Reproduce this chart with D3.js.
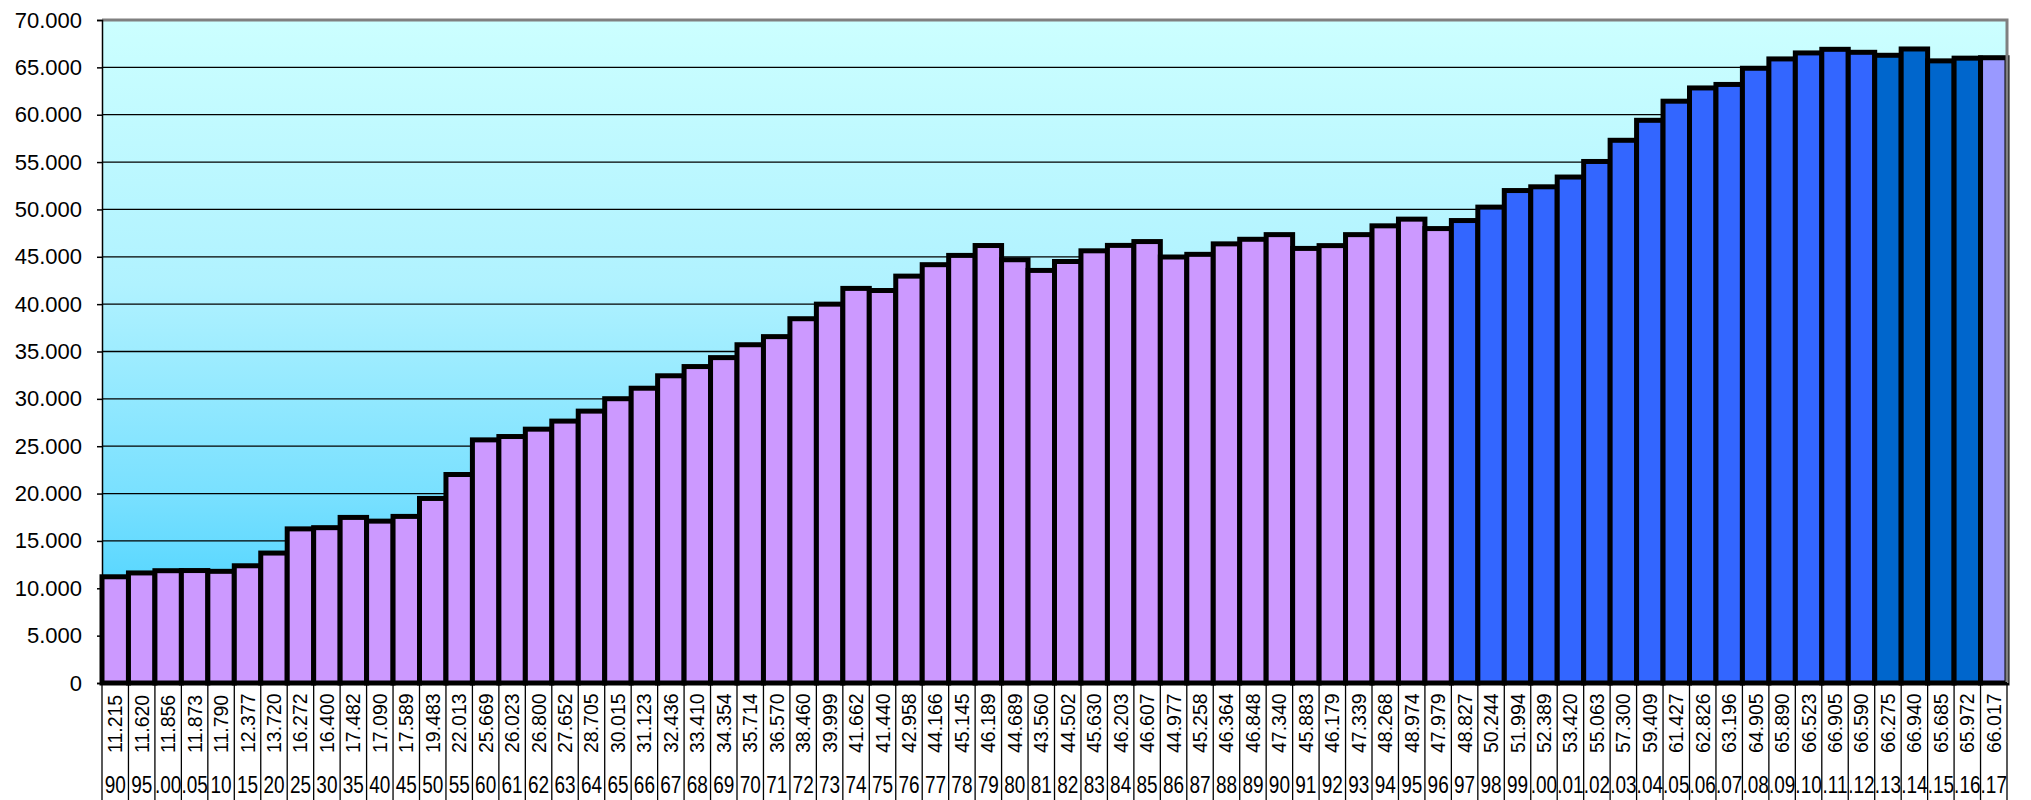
<!DOCTYPE html>
<html>
<head>
<meta charset="utf-8">
<script src="https://cdn.jsdelivr.net/npm/d3@7"></script>
<style>
  body { margin: 0; background: #fff; }
  text { font-family: "Liberation Sans", Arial, sans-serif; fill: #000; }
</style>
</head>
<body>
<div id="chart"></div>
<script>
const years = [1890, 1895, 1900, 1905, 1910, 1915, 1920, 1925, 1930, 1935, 1940, 1945, 1950, 1955,
  1960, 1961, 1962, 1963, 1964, 1965, 1966, 1967, 1968, 1969, 1970, 1971, 1972, 1973, 1974, 1975,
  1976, 1977, 1978, 1979, 1980, 1981, 1982, 1983, 1984, 1985, 1986, 1987, 1988, 1989, 1990, 1991,
  1992, 1993, 1994, 1995, 1996, 1997, 1998, 1999, 2000, 2001, 2002, 2003, 2004, 2005, 2006, 2007,
  2008, 2009, 2010, 2011, 2012, 2013, 2014, 2015, 2016, 2017];

const yearLabels = ["90", "95", ".00", ".05", "10", "15", "20", "25", "30", "35", "40", "45", "50", "55",
  "60", "61", "62", "63", "64", "65", "66", "67", "68", "69", "70", "71", "72", "73", "74", "75",
  "76", "77", "78", "79", "80", "81", "82", "83", "84", "85", "86", "87", "88", "89", "90", "91",
  "92", "93", "94", "95", "96", "97", "98", "99", ".00", ".01", ".02", ".03", ".04", ".05", ".06", ".07",
  ".08", ".09", ".10", ".11", ".12", ".13", ".14", ".15", ".16", ".17"];

const values = [11215, 11620, 11856, 11873, 11790, 12377, 13720, 16272, 16400, 17482,
  17090, 17589, 19483, 22013, 25669, 26023, 26800, 27652, 28705, 30015,
  31123, 32436, 33410, 34354, 35714, 36570, 38460, 39999, 41662, 41440,
  42958, 44166, 45145, 46189, 44689, 43560, 44502, 45630, 46203, 46607,
  44977, 45258, 46364, 46848, 47340, 45883, 46179, 47339, 48268, 48974,
  47979, 48827, 50244, 51994, 52389, 53420, 55063, 57300, 59409, 61427,
  62826, 63196, 64905, 65890, 66523, 66905, 66590, 66275, 66940, 65685,
  65972, 66017];

const yTicks = [0, 5000, 10000, 15000, 20000, 25000, 30000, 35000, 40000, 45000, 50000, 55000, 60000, 65000, 70000];

const data = years.map((year, i) => ({ year, label: yearLabels[i], value: values[i] }));

const margin = { top: 20, right: 24, bottom: 117, left: 102 };
const width = 2031 - margin.left - margin.right;
const height = 800 - margin.top - margin.bottom;

const fmt = d3.formatLocale({ decimal: ",", thousands: ".", grouping: [3], currency: ["", ""] }).format(",d");

const barColor = (year) => {
  if (year <= 1996) return "#cc99ff";
  if (year <= 2012) return "#3366ff";
  if (year <= 2016) return "#0066cc";
  return "#9999ff";
};

const root = d3.select("#chart")
  .append("svg")
  .attr("width", width + margin.left + margin.right)
  .attr("height", height + margin.top + margin.bottom);

const defs = root.append("defs");
const grad = defs.append("linearGradient")
  .attr("id", "bg")
  .attr("x1", 0).attr("y1", 0).attr("x2", 0).attr("y2", 1);
grad.append("stop").attr("offset", "0%").attr("stop-color", "#ccffff");
grad.append("stop").attr("offset", "40%").attr("stop-color", "#b0f2ff");
grad.append("stop").attr("offset", "72%").attr("stop-color", "#78e0ff");
grad.append("stop").attr("offset", "100%").attr("stop-color", "#33ccff");

defs.append("clipPath")
  .attr("id", "valclip")
  .append("rect")
  .attr("x", 0).attr("y", height + 5)
  .attr("width", width).attr("height", 70);

const svg = root.append("g")
  .attr("transform", `translate(${margin.left}, ${margin.top})`);

const x = d3.scaleBand()
  .domain(years)
  .range([0, width])
  .padding(0);

const y = d3.scaleLinear()
  .domain([0, 70000])
  .range([height, 0]);

svg.append("rect")
  .attr("width", width)
  .attr("height", height)
  .attr("fill", "url(#bg)");

// gridlines
svg.append("g")
  .selectAll("line")
  .data(yTicks.filter(t => t > 0 && t < 70000))
  .join("line")
  .attr("x1", 0).attr("x2", width)
  .attr("y1", d => y(d)).attr("y2", d => y(d))
  .attr("stroke", "#000")
  .attr("stroke-width", 1.3);

// bars
svg.append("g")
  .selectAll("rect")
  .data(data)
  .join("rect")
  .attr("x", d => x(d.year))
  .attr("y", d => y(d.value))
  .attr("width", x.bandwidth())
  .attr("height", d => height - y(d.value))
  .attr("fill", d => barColor(d.year))
  .attr("stroke", "#000")
  .attr("stroke-width", 5);

// grey frame top and right
svg.append("path")
  .attr("d", `M0,0H${width}V${height}`)
  .attr("fill", "none")
  .attr("stroke", "#808080")
  .attr("stroke-width", 3);

// y axis
const yAxis = svg.append("g")
  .call(d3.axisLeft(y).tickValues(yTicks).tickSize(5).tickPadding(15).tickFormat(fmt));
yAxis.select(".domain").attr("stroke", "#000").attr("stroke-width", 1.5);
yAxis.selectAll(".tick line").attr("stroke", "#000").attr("stroke-width", 1.5);
yAxis.selectAll("text")
  .style("font-family", "'Liberation Sans', Arial, sans-serif")
  .style("font-size", "22px")
  .attr("fill", "#000");

svg.append("line")
  .attr("x1", 0).attr("x2", width)
  .attr("y1", height).attr("y2", height)
  .attr("stroke", "#000")
  .attr("stroke-width", 2);

// data table
const bounds = years.map(yr => x(yr)).concat([width]);
svg.append("g")
  .selectAll("line")
  .data(bounds)
  .join("line")
  .attr("x1", d => d).attr("x2", d => d)
  .attr("y1", height).attr("y2", height + margin.bottom)
  .attr("stroke", "#000")
  .attr("stroke-width", 1.3);

svg.append("g")
  .attr("clip-path", "url(#valclip)")
  .selectAll("text")
  .data(data)
  .join("text")
  .attr("transform", d => `translate(${x(d.year) + x.bandwidth() / 2 + 7}, ${height + 70}) rotate(-90)`)
  .style("font-size", "19.5px")
  .text(d => fmt(d.value));

svg.append("g")
  .selectAll("text")
  .data(data)
  .join("text")
  .attr("text-anchor", "middle")
  .attr("transform", d => `translate(${x(d.year) + x.bandwidth() / 2}, ${height + 110}) scale(1, 1.25)`)
  .style("font-size", "19px")
  .text(d => d.label);
</script>
</body>
</html>
